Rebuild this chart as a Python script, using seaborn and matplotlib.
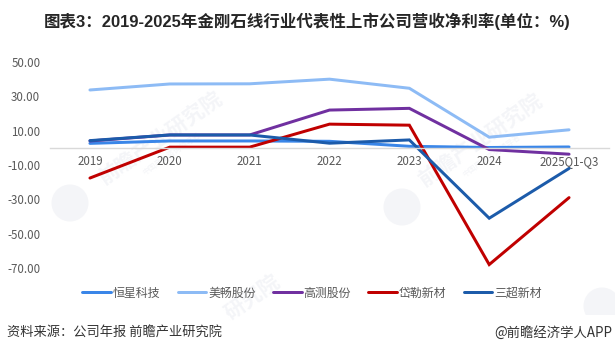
import matplotlib
matplotlib.use("Agg")
import matplotlib.pyplot as plt
from matplotlib.patches import Ellipse, Rectangle
import seaborn as sns
import pandas as pd

years = ["2019", "2020", "2021", "2022", "2023", "2024", "2025Q1-Q3"]
hengxing = [2.6, 4.0, 4.0, 3.8, 0.9, 0.2, 0.5]
meichang = [33.7, 37.2, 37.3, 40.0, 34.7, 6.2, 10.5]
gaoce = [4.0, 7.5, 7.5, 22.0, 23.0, -1.0, -3.7]
daile = [-17.6, 0.4, 0.4, 13.8, 13.2, -68.0, -29.0]
sanchao = [4.2, 7.5, 7.5, 2.7, 4.6, -41.0, -12.0]
names = ["恒星科技", "美畅股份", "高测股份", "岱勒新材", "三超新材"]
colors = ["#3A86E8", "#8DBBF5", "#7030A0", "#C00000", "#1C5BAA"]
yticks = [50, 30, 10, -10, -30, -50, -70]
title = "图表3：2019-2025年金刚石线行业代表性上市公司营收净利率(单位：%)"
source = "资料来源：公司年报 前瞻产业研究院"
credit = "@前瞻经济学人APP"
watermark = "前瞻产业研究院"
watermark_sub = "中国产业咨询领导者"
watermark_part = "研究院"

sns.set_theme(style="white")
plt.rcParams["font.family"] = ["Noto Sans CJK SC", "DejaVu Sans"]

W, H = 615, 354
fig = plt.figure(figsize=(W / 100, H / 100), dpi=100)
ax = fig.add_axes([50 / W, (H - 268) / H, 559 / W, 206 / H])

df = pd.DataFrame({
    "year": years * 5,
    "value": hengxing + meichang + gaoce + daile + sanchao,
    "company": [n for n in names for _ in years],
})
sns.lineplot(data=df, x="year", y="value", hue="company", hue_order=names,
             palette=colors, sort=False, linewidth=2.15, ax=ax, legend=True,
             solid_capstyle="round", solid_joinstyle="miter", errorbar=None)

ax.set_xlim(-0.5, 6.5)
ax.set_ylim(-70, 50)
ax.set_yticks(yticks)
ax.set_yticklabels([f"{v:.2f}" for v in yticks])
ax.set_xlabel("")
ax.set_ylabel("")
for s in ["top", "right", "left"]:
    ax.spines[s].set_visible(False)
ax.spines["bottom"].set_position(("data", 0))
ax.spines["bottom"].set_color("#D9D9D9")
ax.spines["bottom"].set_linewidth(1)
ax.tick_params(axis="x", length=0, pad=5, labelsize=8.3, labelcolor="#595959")
ax.tick_params(axis="y", length=0, pad=7, labelsize=8.3, labelcolor="#595959")
ax.patch.set_alpha(0)

handles, labels = ax.get_legend_handles_labels()
ax.legend(handles, labels, loc="center", bbox_to_anchor=(312 / W, (H - 293) / H),
          bbox_transform=fig.transFigure, ncol=5, frameon=False, fontsize=8.6,
          handlelength=2.4, handletextpad=0.15, columnspacing=1.45,
          labelcolor="#595959", borderpad=0)

# faint watermarks behind the chart
wm_color = "#F4F5F8"
for (x, y) in [(160, 138), (480, 140)]:
    fig.text(x / W, (H - y) / H, watermark, fontsize=15, color=wm_color, rotation=35,
             ha="center", va="center", zorder=-1, fontweight="bold")
    fig.text((x + 12) / W, (H - y - 16) / H, watermark_sub, fontsize=5.5, color=wm_color,
             rotation=35, ha="center", va="center", zorder=-1)
fig.text(252 / W, (H - 297) / H, watermark_part, fontsize=15, color=wm_color, rotation=35,
         ha="center", va="center", zorder=-1, fontweight="bold")
band = Rectangle((0, (H - 315) / H), 1, 315 / H, transform=fig.transFigure)
for (x, y) in [(70, 203), (402, 207), (602, 306)]:
    logo = Ellipse((x / W, (H - y) / H), 37 / W, 37 / H, transform=fig.transFigure,
                   facecolor=wm_color, edgecolor="none", zorder=-1)
    fig.add_artist(logo)
    logo.set_clip_path(band)

fig.text(307 / W, (H - 21) / H, title, ha="center", va="center", fontsize=11.85,
         fontweight="bold", color="#262626", family=["Liberation Sans", "Noto Sans CJK SC"])
fig.text(7 / W, (H - 332) / H, source, ha="left", va="center", fontsize=9.5, color="#333333")
fig.text(612 / W, (H - 333) / H, credit, ha="right", va="center", fontsize=9.6, color="#333333")

fig.savefig("out.png", dpi=100)
